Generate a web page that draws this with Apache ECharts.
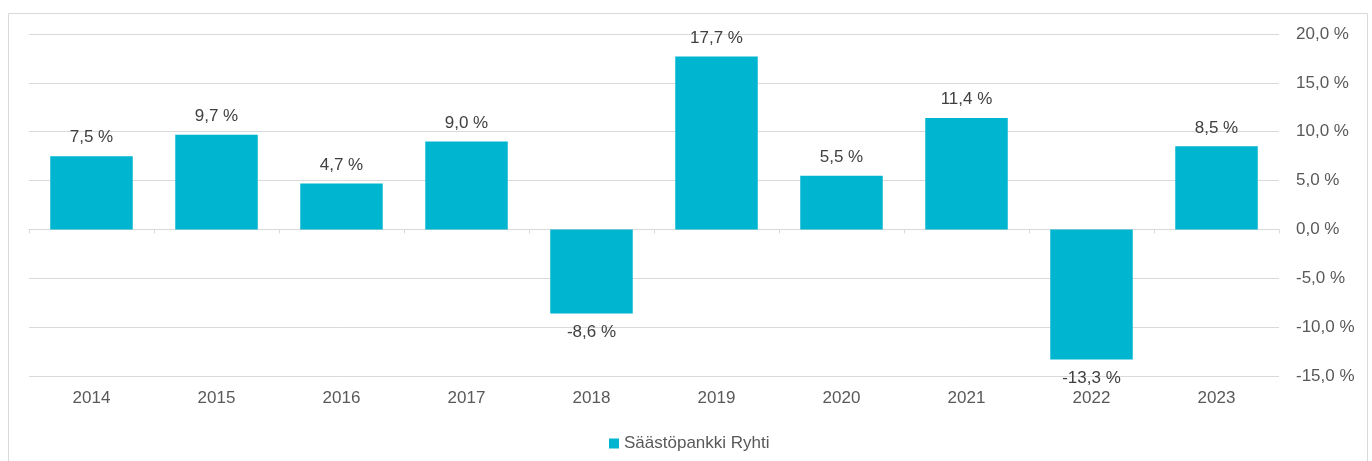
<!DOCTYPE html>
<html>
<head>
<meta charset="utf-8">
<script src="https://cdn.jsdelivr.net/npm/echarts@6/dist/echarts.min.js"></script>
<style>
html,body{margin:0;padding:0;background:#fff;}
#chart{width:1372px;height:461px;}
</style>
</head>
<body>
<div id="chart"></div>
<script>
const categories = ['2014','2015','2016','2017','2018','2019','2020','2021','2022','2023'];
const seriesName = 'Säästöpankki Ryhti';
const values = [7.5, 9.7, 4.7, 9.0, -8.6, 17.7, 5.5, 11.4, -13.3, 8.5];
const yMin = -15, yMax = 20, yStep = 5;

const fmt = v => v.toFixed(1).replace('.', ',') + ' %';
const FONT = '"Liberation Sans", Arial, sans-serif';

const chart = echarts.init(document.getElementById('chart'));
chart.setOption({
  animation: false,
  textStyle: { fontFamily: FONT },
  graphic: [{
    type: 'rect',
    shape: { x: 8.5, y: 13.5, width: 1359, height: 470 },
    style: { fill: 'none', stroke: '#d9d9d9', lineWidth: 1 },
    silent: true
  }],
  grid: { left: 29, right: 93, top: 34, bottom: 85 },
  legend: {
    data: [seriesName],
    left: 604,
    top: 430,
    icon: 'rect',
    itemWidth: 10,
    itemHeight: 10,
    itemGap: 10,
    textStyle: { color: '#595959', fontSize: 17, fontFamily: FONT }
  },
  xAxis: [{
    type: 'category',
    data: categories,
    position: 'bottom',
    axisLine: { onZero: true, lineStyle: { color: '#d9d9d9', width: 1 } },
    axisTick: { show: true, length: 4, lineStyle: { color: '#d9d9d9' } },
    axisLabel: { show: false }
  }, {
    type: 'category',
    data: categories,
    position: 'bottom',
    axisLine: { show: false, onZero: false },
    axisTick: { show: false },
    axisLabel: { color: '#595959', fontSize: 17, margin: 14, fontFamily: FONT }
  }],
  yAxis: {
    type: 'value',
    position: 'right',
    min: yMin, max: yMax, interval: yStep,
    axisLine: { show: false },
    axisTick: { show: false },
    splitLine: { lineStyle: { color: '#d9d9d9', width: 1 } },
    axisLabel: { color: '#595959', fontSize: 17, margin: 17, fontFamily: FONT, formatter: v => fmt(v) }
  },
  series: [{
    name: seriesName,
    type: 'bar',
    xAxisIndex: 0,
    barCategoryGap: '34%',
    itemStyle: { color: '#00b5cf' },
    data: values.map(v => ({
      value: v,
      label: { position: v >= 0 ? 'top' : 'bottom' }
    })),
    label: {
      show: true,
      distance: 10,
      color: '#404040',
      fontSize: 17,
      fontFamily: FONT,
      formatter: p => fmt(p.value)
    }
  }]
});
</script>
</body>
</html>
